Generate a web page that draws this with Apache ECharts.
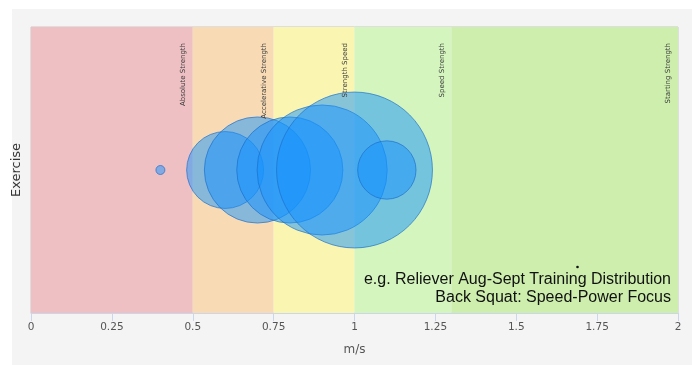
<!DOCTYPE html>
<html>
<head>
<meta charset="utf-8">
<script src="https://cdn.jsdelivr.net/npm/echarts@6/dist/echarts.min.js"></script>
<style>html,body{margin:0;padding:0;background:#fff;}#c{width:692px;height:365px;}</style>
</head>
<body>
<div id="c"></div>
<script>
// Zone bands (m/s)
var bandNames = ['Absolute Strength', 'Accelerative Strength', 'Strength Speed', 'Speed Strength', 'Starting Strength'];
var bandStarts = [0, 0.5, 0.75, 1.0, 1.3];
var bandEnds = [0.5, 0.75, 1.0, 1.3, 2.0];
var bandColors = ['#eec0c3', '#f8dbb5', '#faf6b2', '#d4f6be', '#cdeeac'];
// Bubbles: velocity (m/s) and relative training volume
var velocities = [0.4, 0.6, 0.7, 0.8, 0.9, 1.0, 1.1];
var volumes = [1, 73, 139, 139, 209, 300, 42];
var xTicks = [0, 0.25, 0.5, 0.75, 1, 1.25, 1.5, 1.75, 2];
var noteLines = ['e.g. Reliever Aug-Sept Training Distribution', 'Back Squat: Speed-Power Focus'];

var chart = echarts.init(document.getElementById('c'), null, {renderer: 'canvas'});

var areaData = bandNames.map(function (n, i) {
  return [{xAxis: bandStarts[i], itemStyle: {color: bandColors[i]}}, {xAxis: bandEnds[i]}];
});
var lineData = bandNames.map(function (n, i) {
  return {xAxis: bandEnds[i], name: n};
});
var bubbleData = velocities.map(function (v, i) { return [v, 1, volumes[i]]; });

var noteFont = '16px "Liberation Sans", Arial, sans-serif';
chart.setOption({
  animation: false,
  backgroundColor: '#ffffff',
  graphic: [
    {type: 'rect', left: 12, top: 9, shape: {width: 680, height: 356}, style: {fill: '#f4f4f4'}, z: -10, silent: true},
    {type: 'text', x: 671, y: 272, style: {text: noteLines[0], align: 'right', verticalAlign: 'top', fill: '#111', font: noteFont}, z: 50},
    {type: 'text', x: 671, y: 290, style: {text: noteLines[1], align: 'right', verticalAlign: 'top', fill: '#111', font: noteFont}, z: 50},
    {type: 'circle', shape: {cx: 577.5, cy: 267, r: 1.3}, style: {fill: '#111'}, z: 50}
  ],
  grid: {left: 31, right: 14, top: 27, bottom: 52, show: true, borderColor: '#c8c8c8', borderWidth: 1, backgroundColor: 'transparent'},
  xAxis: {
    type: 'value', min: 0, max: 2, interval: 0.25,
    name: 'm/s', nameLocation: 'middle', nameGap: 31,
    nameTextStyle: {color: '#555', fontSize: 12, fontFamily: 'DejaVu Sans'},
    axisLine: {show: true, lineStyle: {color: '#ccd6eb', width: 1}},
    axisTick: {show: true, length: 8, lineStyle: {color: '#ccd6eb'}},
    axisLabel: {color: '#555', fontSize: 10.5, fontFamily: 'DejaVu Sans', margin: 9,
      formatter: function (v) { return xTicks.indexOf(v) >= 0 ? String(v) : ''; }},
    splitLine: {show: false}
  },
  yAxis: {
    type: 'value', min: 0, max: 2, interval: 1,
    name: 'Exercise', nameLocation: 'middle', nameGap: 8,
    nameTextStyle: {color: '#333', fontSize: 13, fontFamily: 'DejaVu Sans'},
    axisLine: {show: false}, axisTick: {show: false}, axisLabel: {show: false},
    splitLine: {show: true, lineStyle: {color: 'rgba(255,255,255,0.35)', width: 1}}
  },
  series: [
    {
      type: 'scatter', data: [], z: 1, silent: true,
      markArea: {silent: true, data: areaData, label: {show: false}},
      markLine: {
        silent: true, symbol: ['none', 'none'], data: lineData,
        lineStyle: {color: 'rgba(0,0,0,0)', width: 1, type: 'solid'},
        emphasis: {disabled: true},
        label: {show: true, position: 'insideEndTop', distance: [16, 6], formatter: '{b}',
          color: '#3a3a3a', fontSize: 7, fontFamily: 'DejaVu Sans'}
      }
    },
    {
      type: 'scatter', z: 3, data: bubbleData,
      symbolSize: function (d) { return Math.sqrt(d[2]) * 9; },
      itemStyle: {color: 'rgba(20,145,255,0.62)', borderColor: 'rgba(30,110,200,0.85)', borderWidth: 1}
    }
  ]
});
</script>
</body>
</html>
